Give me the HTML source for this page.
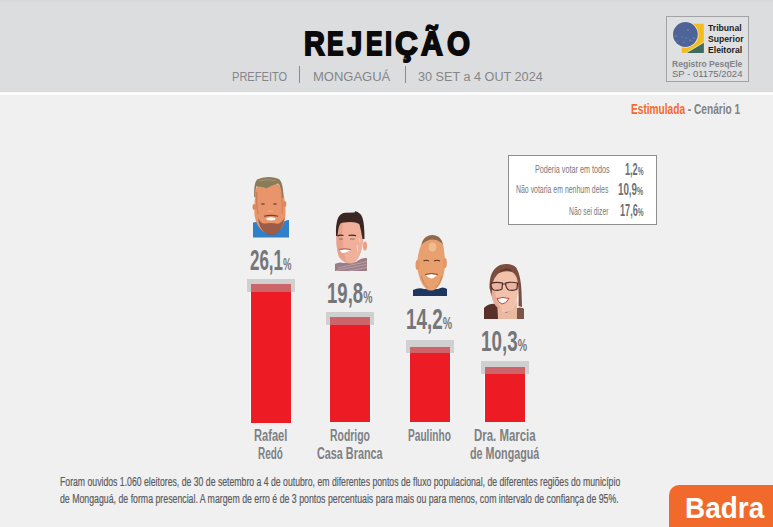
<!DOCTYPE html>
<html><head><meta charset="utf-8">
<style>
*{margin:0;padding:0;box-sizing:border-box}
html,body{width:773px;height:527px;overflow:hidden;background:#f0f0f0;font-family:"Liberation Sans",sans-serif}
.a{position:absolute;white-space:nowrap;transform-origin:0 0;line-height:1}
#hdr{position:absolute;left:0;top:0;width:773px;height:92px;background:linear-gradient(#d5d6d8,#dadbdd 2px,#dcdddf 4px)}
#wl{position:absolute;left:0;top:92px;width:773px;height:3px;background:linear-gradient(#f6f6f6,#fff 40%,#fff 60%,#f7f7f7)}
.title{font-weight:bold;font-size:33px;color:#0a0a0a;-webkit-text-stroke:1.8px #0a0a0a}
.sub{font-size:12.5px;color:#85868a}
.sep{position:absolute;width:1px;background:#8a8b8e}
.bar{position:absolute;background:#ed1c24;box-shadow:-1px 0 0 #f7fbfb,1px 0 0 #f7fbfb}
.cap{position:absolute;background:#d0d0d0}
.capr{position:absolute;background:#cd6469}
.pct{font-weight:bold;font-size:29.5px;color:#757679}
.pct small{font-size:16.5px}
.nm{font-weight:bold;font-size:16px;color:#7e8084}
.lg{font-size:10px;color:#77787b;transform:scaleX(0.7)}
.lv{font-weight:bold;font-size:16px;color:#6f7073;transform:scaleX(0.62)}
.lv small{font-size:11.5px}
.fn{font-size:12.5px;color:#5a5b5f;-webkit-text-stroke:0.2px #5a5b5f}
.tse{font-size:9px;font-weight:bold;color:#1c1c1c;transform:scaleX(0.96)}
</style></head><body>
<div id="hdr"></div>
<div id="wl"></div>
<div style="position:absolute;left:0;top:91px;width:773px;height:1px;background:#d9dadc"></div>

<div class="a title" style="left:304.32px;top:26.5px;transform:scaleX(0.875)">R</div><div class="a title" style="left:327.15px;top:26.5px;transform:scaleX(0.752)">E</div><div class="a title" style="left:346.83px;top:26.5px;transform:scaleX(0.826)">J</div><div class="a title" style="left:365.65px;top:26.5px;transform:scaleX(0.748)">E</div><div class="a title" style="left:384.73px;top:26.5px;transform:scaleX(0.775)">I</div><div class="a title" style="left:395.40px;top:26.5px;transform:scaleX(0.956)">Ç</div><div class="a title" style="left:420.92px;top:26.5px;transform:scaleX(0.919)">Ã</div><div class="a title" style="left:447.00px;top:26.5px;transform:scaleX(0.896)">O</div>
<div class="a sub" style="left:232px;top:71px;transform:scaleX(0.885)">PREFEITO</div>
<div class="sep" style="left:299px;top:66px;height:17px"></div>
<div class="a sub" style="left:313px;top:71px;transform:scaleX(1.04)">MONGAGUÁ</div>
<div class="sep" style="left:405px;top:66px;height:17px"></div>
<div class="a sub" style="left:418px;top:71px;transform:scaleX(1.012)">30 SET a 4 OUT 2024</div>

<!-- TSE box -->
<div style="position:absolute;left:666px;top:16px;width:83px;height:66px;border:1px solid #a3a3a5;background:#dfe0e2"></div>

<!-- estimulada -->
<div class="a" style="left:631px;top:102px;font-size:14px;font-weight:bold;transform:scaleX(0.7235)"><span style="color:#f26b2c">Estimulada</span><span style="color:#808285"> - Cenário 1</span></div>

<!-- legend box -->
<div style="position:absolute;left:508px;top:155px;width:149px;height:70px;border:1px solid #8e8e90;background:#fff"></div>


<svg style="position:absolute;left:0;top:0" width="773" height="527" viewBox="0 0 773 527">
<!-- TSE logo -->
<rect x="681.7" y="23.7" width="22.1" height="29.2" fill="#f3bd1f"/>
<path d="M686.6,52.9 L703.8,42.7 L703.8,52.9 Z" fill="#3f6b5e"/>
<path d="M685.5,53.2 L703.8,42.2" stroke="#e6e2d0" stroke-width="0.8"/>
<circle cx="685.4" cy="34.5" r="13.2" fill="#e8e4d8"/>
<circle cx="685.4" cy="34.5" r="12.4" fill="#4e6499"/>
<g fill="#c8d0e4">
<circle cx="688" cy="30" r="0.5"/><circle cx="676" cy="36" r="0.5"/><circle cx="682" cy="37" r="0.4"/>
<circle cx="686" cy="38" r="0.4"/><circle cx="690" cy="40" r="0.5"/><circle cx="694" cy="38" r="0.5"/>
<circle cx="678" cy="41" r="0.4"/><circle cx="684" cy="42" r="0.4"/><circle cx="692" cy="41" r="0.4"/>
</g>

<!-- Face 1 -->
<g>
<path d="M253,237.5 L253,222.5 Q258,221 262,224 L280,224 Q285,220 289,220 L289,237.5 Z" fill="#2f7fca"/>
<path d="M255.5,190 Q254,205 254.5,215 Q256,226 263,231.5 Q269,235.5 276,233.5 Q284,228.5 285.5,216 Q286,203 282.5,189 Q281,183 269,183 Q257,183 255.5,190 Z" fill="#e9956b"/>
<path d="M257,192 Q256,205 258,214 Q256,205 256.5,192 Z M281,192 Q283,205 282,214" stroke="#d47e57" stroke-width="1" fill="none"/>
<ellipse cx="254.3" cy="207" rx="1.8" ry="3" fill="#df875f"/>
<ellipse cx="284.6" cy="204" rx="1.8" ry="3" fill="#df875f"/>
<path d="M258,218 Q259,229 266,233.5 Q271,236.5 277,233.5 Q283,229 284.5,218 Q280,225 276,223.5 Q271,222.5 265,223.5 Q261,224 258,218 Z" fill="#8f5242" opacity="0.85"/>
<path d="M254.2,197 Q253.5,184 257,179.5 Q262,177 268,177 Q276,177 279.5,179.5 Q283.5,183.5 283.3,198 L282.3,198 Q281.5,186 278,183.5 Q272,185 266.6,188.3 Q261,186 256.3,186.5 Q255.3,190 255.3,197 Z" fill="#8a7b59"/>
<path d="M259,181 Q267,178.5 276,180.5" stroke="#a59570" stroke-width="1" fill="none"/>
<ellipse cx="263" cy="204" rx="2" ry="0.9" fill="#8d5a45"/>
<ellipse cx="275" cy="204" rx="2" ry="0.9" fill="#8d5a45"/>
<path d="M268,211.5 Q270.5,210.5 273,211.5" stroke="#f3b08a" stroke-width="1.2" fill="none"/>
<path d="M264,216.3 Q271,214.5 278,216.3" stroke="#7a3d2c" stroke-width="1.1" fill="none"/>
<ellipse cx="271" cy="218.8" rx="4.6" ry="1.6" fill="#fff"/>
</g>

<!-- Face 2 -->
<g>
<path d="M335,271 L335,264 Q339,261.5 344,263 L356,262 Q361,257.5 367,258 L367,271 Z" fill="#9b7d86"/>
<path d="M338,268 L367,261.5 M336,270.5 L366.5,264.5 M348,271 L367,267.5" stroke="#bfaab0" stroke-width="0.8"/>
<path d="M337,226 Q335,246 339,257 Q345,265 354,263 Q362,257 363.5,238 Q364,224 359,220 Q350,218 341,220 Q337,222 337,226 Z" fill="#f0b09a"/>
<path d="M337,226 Q335,246 339,257 Q343,262 347,263.5 Q342,250 342.5,232 L343,221 Z" fill="#e49c88" opacity="0.75"/>
<ellipse cx="365" cy="246" rx="2" ry="4.5" fill="#e5a086"/>
<path d="M336,236 Q335.5,224 338,218 Q340,213.5 345,212.8 L354.5,212.5 Q355,210.5 357.5,212 Q361.5,214 362.5,218 Q364.5,224 364.5,239 L362.5,239 Q361,230 359.5,224.5 Q358,222 350,222 Q343,222 340.5,223.5 Q338.3,226 337.5,236 Z" fill="#3a2622"/>
<path d="M337.5,236 Q340,234.5 343.5,235.5 M348.5,235.5 Q352.5,234.5 356,235.8" stroke="#3a2622" stroke-width="1.2" fill="none"/>
<path d="M339,239 L343,239 M350,239 L354.5,239" stroke="#7d6a66" stroke-width="0.9"/>
<path d="M339.5,250 Q345,249 350.5,250 Q346,253.5 342,253 Z" fill="#fff"/>
<path d="M339,249.5 Q345,248 351,249.5" stroke="#9a4b45" stroke-width="0.8" fill="none"/>
<path d="M357,245 L358,252 M359,238 L360,242" stroke="#fbe0d4" stroke-width="1" opacity="0.8"/>
</g>

<!-- Face 3 -->
<g>
<path d="M413,296 L413,290 Q419,287 424,289 L438,289 Q443,286 447,289 L447,296 Z" fill="#1f3661"/>
<path d="M422,242 Q417,255 417,266 Q419,282 426,289 Q431,292 436,289 Q444,281 445,266 Q445,250 442,241 Q439,235 432,235 Q425,235 422,242 Z" fill="#e9a06f"/>
<ellipse cx="417.5" cy="265" rx="2" ry="5" fill="#e39565"/>
<ellipse cx="445" cy="263" rx="1.8" ry="5" fill="#e39565"/>
<path d="M421.5,245 Q423,236 432,235 Q441,235 443,245 Q440,240 433,239.5 Q426,239.5 421.5,245 Z" fill="#8b6a4f"/>
<ellipse cx="432.5" cy="247" rx="4" ry="4.5" fill="#f3c39c" opacity="0.8"/>
<path d="M423.5,261 Q426,259.5 429,261 M434,261 Q437,259.5 440,261" stroke="#5e3424" stroke-width="1.1" fill="none"/>
<path d="M426,275 Q431.5,273.5 437,275 Q434,278.5 431,278.5 Q428,278 426,275 Z" fill="#fff"/>
<path d="M425,274.5 Q431.5,272.5 438,274.5" stroke="#7b3a2a" stroke-width="0.9" fill="none"/>
<path d="M421,276 Q424,285 428,288 M442,276 Q440,284 436,288" stroke="#c47a55" stroke-width="0.8" fill="none"/>
</g>

<!-- Face 4 -->
<g>
<path d="M484,319 L484,308 Q489,303 496,304 L502,312 L516,311 Q520,306 524,309 L524,319 Z" fill="#5a3128"/>
<path d="M515,309 Q520,306 524,309 L524,319 L516,319 Z" fill="#7b5548"/>
<path d="M497,298 Q499,311 506,312.5 Q513,312 517,300 L517,319 L498,319 Z" fill="#ebb9a1"/>
<path d="M491,282 Q490,299 496,306 Q503,313 511,311 Q518,305 518.5,282 Q518,270 505,269 Q492,270 491,282 Z" fill="#f1c1a9"/>
<path d="M491,290 Q491,300 496,306 Q499,309 502,310 Q495,300 495,290 Z" fill="#e2a892" opacity="0.8"/>
<path d="M489.5,288 Q489,270 500,265 Q511,262 516.5,268 Q521,276 521.5,292 L522,307 L518.5,306 Q519,294 518,283 Q516.5,274 512,272 Q505,270 499,273 Q494,277 492.5,284 L491.5,296 Z" fill="#7a4d3e"/>
<path d="M499,273 Q505,268 512,272 L510,269 Q503,267 499,273 Z" fill="#5e382e"/>
<path d="M491,283.5 Q496,281.5 502.5,283 L502,289 Q499,291 494,290 Q491,289 491,283.5 Z" fill="#e9b5a0" stroke="#4e2a2a" stroke-width="1.2"/>
<path d="M505.5,283 Q511,281.5 517.5,283 L517,289 Q514,291 509,290 Q506,289 505.5,283 Z" fill="#e9b5a0" stroke="#4e2a2a" stroke-width="1.2"/>
<path d="M502.5,284 L505.5,284" stroke="#4e2a2a" stroke-width="1"/>
<path d="M497,298.5 Q503,296.5 509,298.5 Q506,304 502,304 Q498.5,303 497,298.5 Z" fill="#fff" stroke="#c5423a" stroke-width="1"/>
<circle cx="517" cy="303" r="0.8" fill="#d9d0c8"/>
</g>
</svg>

<!-- bars -->
<div class="bar" style="left:251px;top:284px;width:40px;height:139px"></div>
<div class="cap" style="left:247px;top:279px;width:48px;height:13px"></div>
<div class="capr" style="left:251px;top:284px;width:40px;height:8px"></div>

<div class="bar" style="left:330px;top:317px;width:40px;height:105px"></div>
<div class="cap" style="left:326px;top:312px;width:48px;height:13px"></div>
<div class="capr" style="left:330px;top:317px;width:40px;height:8px"></div>

<div class="bar" style="left:410px;top:347px;width:40px;height:75px"></div>
<div class="cap" style="left:406px;top:340px;width:48px;height:13px"></div>
<div class="capr" style="left:410px;top:347px;width:40px;height:6px"></div>

<div class="bar" style="left:485px;top:367px;width:40px;height:55px"></div>
<div class="cap" style="left:481px;top:361px;width:48px;height:13px"></div>
<div class="capr" style="left:485px;top:367px;width:40px;height:7px"></div>


<!-- legend text -->
<div class="a lg" style="left:535px;top:165px;transform:scaleX(0.721)">Poderia votar em todos</div>
<div class="a lg" style="left:516px;top:185px;transform:scaleX(0.6926)">Não votaria em nenhum deles</div>
<div class="a lg" style="left:569px;top:207px;transform:scaleX(0.676)">Não sei dizer</div>
<div class="a lv" style="left:625px;top:161.6px;transform:scaleX(0.569)">1,2<small>%</small></div>
<div class="a lv" style="left:618px;top:182.2px;transform:scaleX(0.611)">10,9<small>%</small></div>
<div class="a lv" style="left:620px;top:202.8px;transform:scaleX(0.570)">17,6<small>%</small></div>

<!-- pct labels -->
<div class="a pct" style="left:249.5px;top:245px;transform:scaleX(0.575)">26,1<small>%</small></div>
<div class="a pct" style="left:327px;top:278px;transform:scaleX(0.630)">19,8<small>%</small></div>
<div class="a pct" style="left:405.6px;top:304px;transform:scaleX(0.638)">14,2<small>%</small></div>
<div class="a pct" style="left:480.6px;top:326px;transform:scaleX(0.638)">10,3<small>%</small></div>

<!-- names -->
<div class="a nm" style="left:254px;top:428px;transform:scaleX(0.695)">Rafael</div>
<div class="a nm" style="left:258.3px;top:446px;transform:scaleX(0.619)">Redó</div>
<div class="a nm" style="left:330px;top:428px;transform:scaleX(0.652)">Rodrigo</div>
<div class="a nm" style="left:317.2px;top:446px;transform:scaleX(0.676)">Casa Branca</div>
<div class="a nm" style="left:408px;top:428px;transform:scaleX(0.634)">Paulinho</div>
<div class="a nm" style="left:474px;top:428px;transform:scaleX(0.714)">Dra. Marcia</div>
<div class="a nm" style="left:470px;top:446px;transform:scaleX(0.672)">de Mongaguá</div>

<!-- footnote -->
<div class="a fn" style="left:60px;top:476px;transform:scaleX(0.695)">Foram ouvidos 1.060 eleitores, de 30 de setembro a 4 de outubro, em diferentes pontos de fluxo populacional, de diferentes regiões do município</div>
<div class="a fn" style="left:60px;top:493px;transform:scaleX(0.701)">de Mongaguá, de forma presencial. A margem de erro é de 3 pontos percentuais para mais ou para menos, com intervalo de confiança de 95%.</div>

<!-- TSE text -->
<div class="a tse" style="left:707.5px;top:24px">Tribunal</div>
<div class="a tse" style="left:707.5px;top:35px">Superior</div>
<div class="a tse" style="left:707.5px;top:45.5px">Eleitoral</div>
<div class="a" style="left:672px;top:59.5px;font-size:9px;font-weight:bold;color:#80838a;transform:scaleX(0.95)">Registro PesqEle</div>
<div class="a" style="left:672px;top:69px;font-size:9.5px;color:#6c6f75">SP - 01175/2024</div>

<!-- Badra -->
<div style="position:absolute;left:669px;top:485px;width:120px;height:60px;background:#f26a2b;border-radius:10px"></div>
<div class="a" style="left:685px;top:494px;font-size:29px;font-weight:bold;color:#fff;transform:scaleX(0.963)">Badra</div>

</body></html>
